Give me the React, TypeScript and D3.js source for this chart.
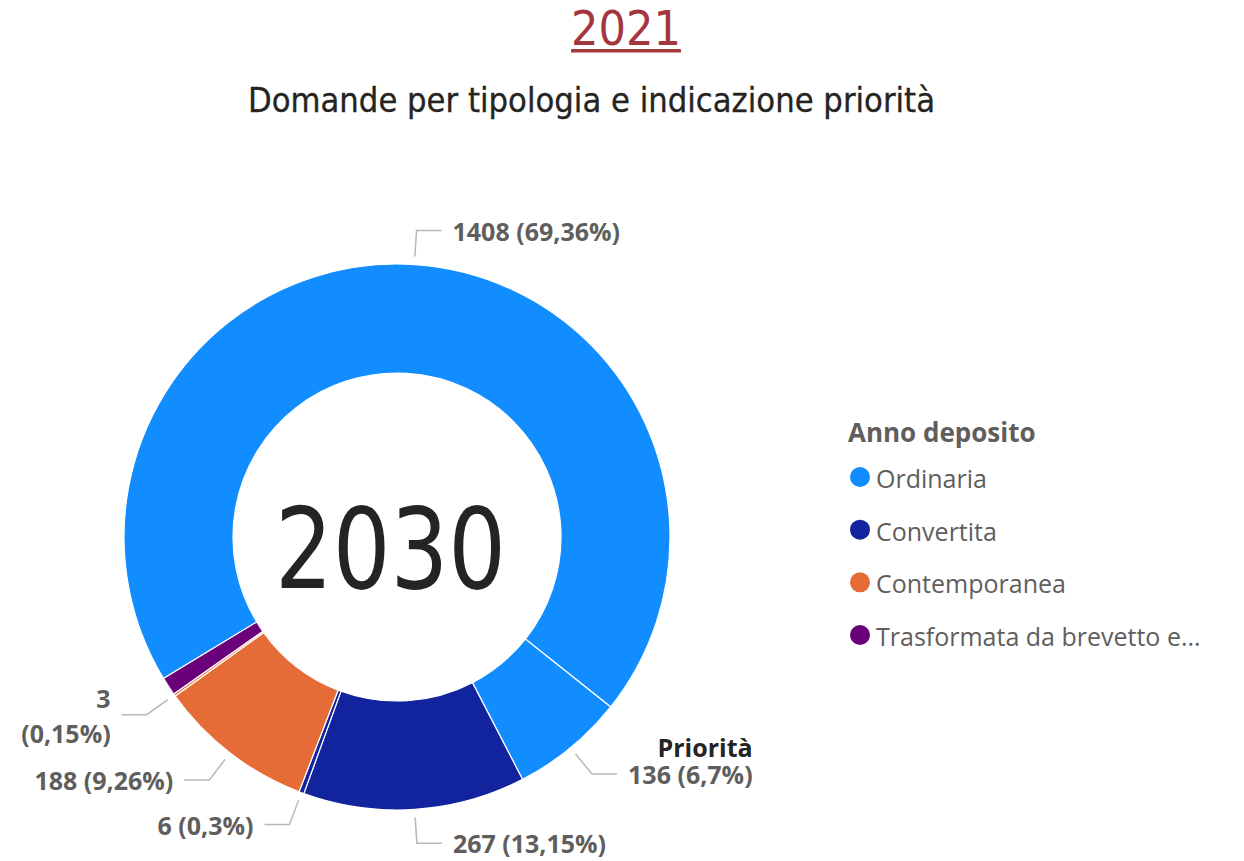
import React, { useEffect, useRef } from 'react'
import * as d3 from 'd3'

// legend categories and palette
const categories = ['Ordinaria', 'Convertita', 'Contemporanea', 'Trasformata da brevetto e...']
const categoryColors = ['#118DFF', '#12239E', '#E66C37', '#6B007B']

// donut slices, clockwise from the big one
const sliceCategory = ['Ordinaria', 'Ordinaria', 'Convertita', 'Convertita', 'Contemporanea', 'Contemporanea', 'Trasformata da brevetto e...']
const sliceValues = [1408, 136, 267, 6, 188, 3, 22]
const sliceTags = ['', 'Priorità', '', '', '', '', '']
const sliceLabelShown = [true, true, true, true, true, true, false]

const pageTitle = '2021'
const chartTitle = 'Domande per tipologia e indicazione priorità'
const legendTitle = 'Anno deposito'

export default function App() {
  const svgRef = useRef<SVGSVGElement>(null)

  useEffect(() => {
    document.body.style.margin = '0'
    const width = 1244
    const height = 861
    const cx = 397, cy = 537
    const outerR = 273, innerR = 164
    const labelGray = '#605E5C'
    const sansFont = "'Open Sans', 'Noto Sans', sans-serif"
    const dinFont = "'DejaVu Sans Condensed', 'DejaVu Sans', sans-serif"

    const svg = d3.select(svgRef.current)
    svg.selectAll('*').remove()
    svg.attr('width', width).attr('height', height)

    const total = d3.sum(sliceValues)
    const color = d3.scaleOrdinal<string, string>().domain(categories).range(categoryColors)
    const fmtPct = (v: number) =>
      ((v / total) * 100).toFixed(2).replace(/\.?0+$/, '').replace('.', ',') + '%'

    // titles
    const t1 = svg.append('text')
      .attr('x', 626).attr('y', 45)
      .attr('text-anchor', 'middle')
      .style('font-family', dinFont).style('font-size', '48px')
      .attr('fill', '#A4363E')
      .text(pageTitle)
    const b1 = (t1.node() as SVGTextElement).getBBox()
    svg.append('rect')
      .attr('x', b1.x).attr('y', 49).attr('width', b1.width).attr('height', 3.5)
      .attr('fill', '#A4363E')

    svg.append('text')
      .attr('x', 591.5).attr('y', 112)
      .attr('text-anchor', 'middle')
      .style('font-family', dinFont).style('font-size', '34px')
      .attr('textLength', 687).attr('lengthAdjust', 'spacingAndGlyphs')
      .attr('fill', '#252423')
      .attr('stroke', '#252423').attr('stroke-width', 0.3)
      .text(chartTitle)

    // donut
    const start = (-121.2 * Math.PI) / 180
    const pie = d3.pie<number>().sort(null).value(d => d)
      .startAngle(start).endAngle(start + 2 * Math.PI)
    const arcs = pie(sliceValues)
    const arc = d3.arc<d3.PieArcDatum<number>>().innerRadius(innerR).outerRadius(outerR)

    const g = svg.append('g').attr('transform', `translate(${cx},${cy})`)
    g.selectAll('path')
      .data(arcs)
      .join('path')
      .attr('d', arc)
      .attr('fill', (d, i) => color(sliceCategory[i]))
      .attr('stroke', '#fff')
      .attr('stroke-width', 1.2)

    // center total
    svg.append('text')
      .attr('x', cx - 6.5).attr('y', 588)
      .attr('text-anchor', 'middle')
      .style('font-family', dinFont).style('font-size', '112px')
      .attr('textLength', 231).attr('lengthAdjust', 'spacingAndGlyphs')
      .attr('fill', '#252423')
      .text(String(total))

    // data labels with leader lines
    arcs.forEach((a, i) => {
      if (!sliceLabelShown[i]) return
      const mid = (a.startAngle + a.endAngle) / 2
      const sx = Math.sin(mid), sy = -Math.cos(mid)
      const right = sx >= 0
      const p0 = [cx + sx * (outerR + 8), cy + sy * (outerR + 8)]
      const p1 = [cx + sx * (outerR + 34), cy + sy * (outerR + 34)]
      const p2 = [p1[0] + (right ? 25 : -25), p1[1]]
      svg.append('polyline')
        .attr('points', [p0, p1, p2].map(p => p.join(',')).join(' '))
        .attr('fill', 'none')
        .attr('stroke', '#B8B8B8')
        .attr('stroke-width', 1.5)

      const tx = p2[0] + (right ? 11 : -11)
      const label = `${sliceValues[i]} (${fmtPct(sliceValues[i])})`
      const t = svg.append('text')
        .attr('x', tx).attr('y', p1[1] + 10)
        .attr('text-anchor', right ? 'start' : 'end')
        .style('font-family', sansFont).style('font-size', '25px').style('font-weight', 700)
        .attr('fill', labelGray)
        .text(label)
      const w = (t.node() as SVGTextElement).getComputedTextLength()

      if (!right && tx - w < 15) {
        // not enough room: wrap on two lines
        const parts = label.split(' ')
        t.text(null)
        t.append('tspan').attr('x', tx).attr('y', p1[1] - 7).text(parts[0])
        t.append('tspan').attr('x', tx).attr('y', p1[1] + 28).text(parts.slice(1).join(' '))
      }

      if (sliceTags[i]) {
        svg.append('text')
          .attr('x', right ? tx + w : tx).attr('y', p1[1] - 17)
          .attr('text-anchor', 'end')
          .style('font-family', sansFont).style('font-size', '25px').style('font-weight', 700)
          .attr('fill', '#252423')
          .text(sliceTags[i])
      }
    })

    // legend
    svg.append('text')
      .attr('x', 848).attr('y', 442)
      .style('font-family', sansFont).style('font-size', '26px').style('font-weight', 700)
      .attr('fill', labelGray)
      .text(legendTitle)

    const ly = d3.scaleLinear().domain([0, categories.length - 1]).range([477, 635])
    const items = svg.append('g').selectAll('g')
      .data(categories)
      .join('g')
      .attr('transform', (d, i) => `translate(0,${ly(i)})`)
    items.append('circle')
      .attr('cx', 860).attr('cy', 0).attr('r', 10)
      .attr('fill', d => color(d))
    items.append('text')
      .attr('x', 876).attr('y', 11)
      .style('font-family', sansFont).style('font-size', '25px')
      .attr('fill', labelGray)
      .text(d => d)
  }, [])

  return <svg ref={svgRef}></svg>
}
